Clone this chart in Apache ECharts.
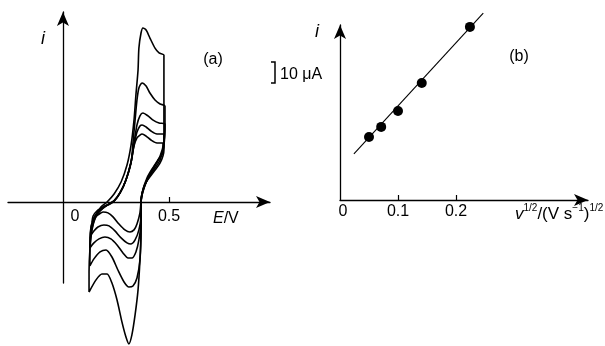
<!DOCTYPE html>
<html><head><meta charset="utf-8">
<script src="https://cdn.jsdelivr.net/npm/echarts@6/dist/echarts.min.js"></script>
<style>html,body{margin:0;padding:0;background:#fff}#c{width:605px;height:346px}</style>
</head><body><div id="c"></div>
<script>
// ---- Panel (a): cyclic voltammograms, E / V and i / uA
const cv1E = [.137,.142,.160,.189,.217,.241,.269,.297,.321,.335,.349,.363,.373,.392,.415,.443,.472,
              .472,.448,.420,.396,.377,.368,.363,.349,.335,.316,.292,.264,.236,.212,.189,.165,.146,.137];
const cv1I = [-9.5,-6.7,-4.3,-2.4,-1.0,0.5,4.3,10.5,19.0,26.7,30.5,31.9,32.4,31.4,29.5,28.1,28.1,
              23.8,20.0,15.7,11.4,5.7,0,-5.2,-10.5,-13.3,-14.3,-13.3,-10.5,-7.1,-5.2,-4.8,-6.2,-8.1,-9.5];
const cv2E = [.132,.132,.142,.160,.189,.217,.241,.269,.297,.321,.335,.349,.363,.373,.392,.415,.443,.476,
              .476,.458,.429,.401,.377,.368,.368,.358,.340,.321,.302,.274,.245,.217,.193,.165,.146,.132];
const cv2I = [-15.7,-12.4,-8.6,-5.2,-2.9,-1.0,0.5,4.3,10.5,19.0,27.1,33.3,36.2,36.7,35.7,33.8,32.4,32.4,
              26.7,21.4,16.7,11.4,5.2,0,-6.2,-13.3,-18.1,-20.0,-19.5,-17.1,-13.8,-11.4,-11.0,-11.9,-13.8,-15.7];
const cv3E = [.127,.127,.132,.146,.170,.198,.222,.241,.269,.297,.321,.335,.349,.363,.377,.401,.425,.453,.481,
              .476,.458,.425,.396,.377,.368,.368,.358,.344,.325,.307,.283,.255,.226,.198,.170,.146,.127];
const cv3I = [-21.9,-17.1,-12.4,-7.6,-4.3,-1.9,-1.0,0.5,4.3,10.5,19.0,28.1,36.7,41.0,42.4,41.0,39.0,37.6,37.1,
              28.6,21.9,15.7,10.5,4.8,0,-9.5,-18.1,-23.8,-26.7,-26.7,-24.3,-20.5,-17.6,-16.7,-17.6,-19.5,-21.9];
const cv4E = [.127,.127,.132,.142,.160,.189,.217,.241,.269,.297,.321,.330,.340,.349,.358,.373,.392,.410,.434,.458,.481,
              .481,.476,.458,.425,.392,.373,.368,.368,.363,.349,.330,.311,.288,.259,.231,.203,.175,.146,.127];
const cv4I = [-30.5,-22.9,-15.7,-10.5,-6.2,-2.9,-1.0,0.5,4.3,10.5,18.6,28.1,39.0,48.6,54.3,56.7,55.2,51.9,48.6,46.7,45.7,
              36.7,27.1,20.0,14.8,9.5,4.3,0,-13.3,-27.6,-36.2,-40.0,-40.5,-38.1,-32.4,-26.2,-22.9,-23.8,-27.1,-30.5];
const cv5E = [.123,.123,.127,.137,.156,.179,.208,.241,.274,.302,.321,.335,.344,.354,.358,.368,.377,.392,.410,.434,.453,.476,
              .476,.476,.476,.458,.420,.387,.373,.368,.368,.363,.354,.340,.325,.311,.297,.278,.255,.231,.208,.184,.156,.123];
const cv5I = [-42.9,-33.3,-22.9,-13.3,-6.2,-2.4,0,3.8,9.5,17.6,27.1,39.0,51.0,62.9,73.3,80.5,82.9,81.9,78.1,73.3,71.0,70.0,
              58.1,39.0,24.8,18.6,13.3,8.6,4.3,0,-13.3,-27.6,-41.9,-53.8,-63.3,-67.6,-64.3,-57.1,-46.7,-38.6,-34.3,-34.3,-37.1,-42.9];
const xLabelsA = [0, 0.5];
const xTicksA = [0.5];

// ---- Panel (b): peak current vs square root of scan rate
const sqrtV = [0.050, 0.071, 0.100, 0.141, 0.224];
const peakI = [30.0, 34.8, 42.4, 55.7, 82.4];
const fitX = [0.024, 0.247];
const fitI = [22.0, 89.0];
const xLabelsB = [0, 0.1, 0.2];
const xTicksB = [0.1, 0.2];

const FONT = 'Liberation Sans, Arial, sans-serif';
const zip = (a, b) => a.map((v, i) => [v, b[i]]);
const cvs = [[cv1E, cv1I], [cv2E, cv2I], [cv3E, cv3I], [cv4E, cv4I], [cv5E, cv5I]];

// panel (a) y range; x axis is lifted from the grid bottom to i = 0
const yMinA = -38.6, yMaxA = 90.5, gridTopA = 12, gridBottomPxA = 283;
const zeroOffsetA = -(gridBottomPxA - gridTopA) * (0 - yMinA) / (yMaxA - yMinA);

const axisLineStyle = { color: '#000', width: 1.3 };
const chart = echarts.init(document.getElementById('c'), null, { renderer: 'canvas' });
chart.setOption({
  backgroundColor: '#fff',
  animation: false,
  grid: [
    { left: 8, right: 335, top: gridTopA, bottom: 346 - gridBottomPxA },
    { left: 340, right: 17, top: 25, bottom: 146 }
  ],
  xAxis: [
    { gridIndex: 0, type: 'value', min: -0.259, max: 0.976, position: 'bottom', offset: zeroOffsetA,
      axisLine: { onZero: false, symbol: ['none', 'arrow'], symbolSize: [9, 14], lineStyle: axisLineStyle },
      axisTick: { show: true, inside: true, length: 5, customValues: xTicksA, lineStyle: { color: '#000', width: 1.2 } },
      axisLabel: { show: true, customValues: xLabelsA, margin: 7, color: '#000', fontFamily: FONT, fontSize: 16,
        formatter: v => v === 0 ? '{z|0}' : String(v),
        rich: { z: { padding: [0, 0, 0, 24], fontSize: 16, fontFamily: FONT, color: '#000' } } },
      splitLine: { show: false } },
    { gridIndex: 1, type: 'value', min: 0, max: 0.4276,
      axisLine: { onZero: true, symbol: ['none', 'arrow'], symbolSize: [9, 14], lineStyle: axisLineStyle },
      axisTick: { show: true, inside: true, length: 5, customValues: xTicksB, lineStyle: { color: '#000', width: 1.2 } },
      axisLabel: { show: true, customValues: xLabelsB, margin: 4, color: '#000', fontFamily: FONT, fontSize: 16,
        formatter: v => v === 0 ? '{z|0}' : String(v),
        rich: { z: { padding: [0, 0, 0, 6], fontSize: 16, fontFamily: FONT, color: '#000' } } },
      splitLine: { show: false } }
  ],
  yAxis: [
    { gridIndex: 0, type: 'value', min: yMinA, max: yMaxA,
      axisLine: { show: true, onZero: true, symbol: ['none', 'arrow'], symbolSize: [9, 14], lineStyle: axisLineStyle },
      axisTick: { show: false }, axisLabel: { show: false }, splitLine: { show: false } },
    { gridIndex: 1, type: 'value', min: 0, max: 83.3,
      axisLine: { show: true, onZero: true, symbol: ['none', 'arrow'], symbolSize: [9, 14], lineStyle: axisLineStyle },
      axisTick: { show: false }, axisLabel: { show: false }, splitLine: { show: false } }
  ],
  series: [
    ...cvs.map(([e, i]) => ({
      type: 'line', xAxisIndex: 0, yAxisIndex: 0, data: zip(e, i), showSymbol: false,
      smooth: 0.25, clip: false, lineStyle: { color: '#000', width: 1.6 }, silent: true
    })),
    { type: 'line', xAxisIndex: 1, yAxisIndex: 1, data: zip(fitX, fitI), showSymbol: false,
      clip: false, lineStyle: { color: '#000', width: 1.1 }, silent: true },
    { type: 'scatter', xAxisIndex: 1, yAxisIndex: 1, data: zip(sqrtV, peakI), symbol: 'circle',
      symbolSize: 10, clip: false, itemStyle: { color: '#000', opacity: 1 }, silent: true }
  ],
  graphic: [
    { type: 'text', x: 43, y: 39, style: { text: 'i', font: 'italic 18px ' + FONT, fill: '#000', align: 'center', verticalAlign: 'middle' } },
    { type: 'text', x: 213, y: 60, style: { text: '(a)', font: '16px ' + FONT, fill: '#000', align: 'center', verticalAlign: 'middle' } },
    { type: 'text', x: 213, y: 219, style: { text: '{e|E}{n|/V}', verticalAlign: 'middle',
        rich: { e: { font: 'italic 16px ' + FONT, fill: '#000' }, n: { font: '16px ' + FONT, fill: '#000' } } } },
    { type: 'text', x: 317, y: 32, style: { text: 'i', font: 'italic 18px ' + FONT, fill: '#000', align: 'center', verticalAlign: 'middle' } },
    { type: 'polyline', shape: { points: [[271, 62], [275, 62], [275, 83], [271, 83]] }, style: { stroke: '#000', lineWidth: 1.5, fill: null } },
    { type: 'text', x: 280, y: 75, style: { text: '10 μA', font: '16px ' + FONT, fill: '#000', verticalAlign: 'middle' } },
    { type: 'text', x: 519, y: 57, style: { text: '(b)', font: '16px ' + FONT, fill: '#000', align: 'center', verticalAlign: 'middle' } },
    { type: 'text', x: 515, y: 203, style: {
        text: '{v|v}{s|1/2}{n|/(V s}{s|−1}{n|)}{s|1/2}',
        rich: {
          v: { font: 'italic 17px ' + FONT, fill: '#000', lineHeight: 20, verticalAlign: 'bottom' },
          n: { font: '17px ' + FONT, fill: '#000', lineHeight: 20, verticalAlign: 'bottom' },
          s: { font: '10px ' + FONT, fill: '#000', lineHeight: 20, verticalAlign: 'top' }
        } } }
  ]
});
</script></body></html>
